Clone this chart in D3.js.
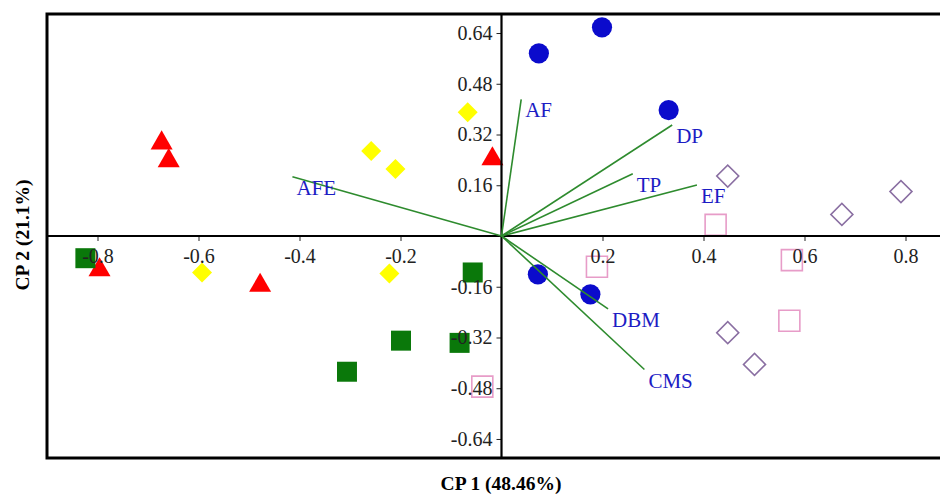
<!DOCTYPE html>
<html>
<head>
<meta charset="utf-8">
<script src="https://cdn.jsdelivr.net/npm/d3@7"></script>
<style>
  body { margin: 0; background: #fff; }
  svg { display: block; font-family: "Liberation Serif", "Times New Roman", serif; }
</style>
</head>
<body>
<div id="chart"></div>
<script>
// loadings (vectors)
var vecNames = ["AF", "AFE", "DP", "TP", "EF", "DBM", "CMS"];
var vecX = [0.039, -0.414, 0.338, 0.260, 0.387, 0.211, 0.283];
var vecY = [0.431, 0.187, 0.350, 0.196, 0.161, -0.230, -0.421];

// scores, one array pair per group
var circX = [0.074, 0.199, 0.331, 0.072, 0.176];
var circY = [0.576, 0.658, 0.397, -0.121, -0.184];
var triX = [-0.673, -0.659, -0.018, -0.796, -0.478];
var triY = [0.293, 0.237, 0.243, -0.107, -0.156];
var yelX = [-0.067, -0.258, -0.210, -0.593, -0.222];
var yelY = [0.390, 0.268, 0.211, -0.115, -0.118];
var grnX = [-0.824, -0.057, -0.199, -0.083, -0.306];
var grnY = [-0.070, -0.115, -0.330, -0.337, -0.428];
var pinkX = [0.424, 0.189, 0.575, 0.570, -0.038];
var pinkY = [0.035, -0.097, -0.076, -0.267, -0.475];
var purX = [0.448, 0.674, 0.791, 0.448, 0.501];
var purY = [0.189, 0.068, 0.140, -0.305, -0.405];

var xTicks = [-0.8, -0.6, -0.4, -0.2, 0.2, 0.4, 0.6, 0.8];
var yTicks = [-0.64, -0.48, -0.32, -0.16, 0.16, 0.32, 0.48, 0.64];

var W = 940, H = 494;
var svg = d3.select("#chart").append("svg")
  .attr("width", W)
  .attr("height", H);

var x = d3.scaleLinear().domain([-0.9, 0.9]).range([47, 956]);
var y = d3.scaleLinear().domain([-0.7, 0.7]).range([458, 14]);

function pts(xs, ys) {
  return xs.map(function (v, i) { return [v, ys[i]]; });
}

// groups of points
var groups = [
  { data: pts(circX, circY), type: d3.symbolCircle, size: 320, fill: "#0b0bcc", stroke: "none", rot: 0 },
  { data: pts(triX, triY), type: d3.symbolTriangle, size: 210, fill: "#ff0000", stroke: "none", rot: 0 },
  { data: pts(yelX, yelY), type: d3.symbolSquare, size: 200, fill: "#ffff00", stroke: "none", rot: 45 },
  { data: pts(grnX, grnY), type: d3.symbolSquare, size: 400, fill: "#0a780a", stroke: "none", rot: 0 },
  { data: pts(pinkX, pinkY), type: d3.symbolSquare, size: 441, fill: "none", stroke: "#e79cc8", rot: 0 },
  { data: pts(purX, purY), type: d3.symbolSquare, size: 242, fill: "none", stroke: "#8a6fa2", rot: 45 }
];

groups.forEach(function (g) {
  svg.append("g")
    .selectAll("path")
    .data(g.data)
    .enter()
    .append("path")
      .attr("d", d3.symbol().type(g.type).size(g.size))
      .attr("transform", function (d) {
        return "translate(" + x(d[0]) + "," + y(d[1]) + ") rotate(" + g.rot + ")";
      })
      .style("fill", g.fill)
      .style("stroke", g.stroke)
      .style("stroke-width", 1.6);
});

// axes through the origin
var fmt = function (d) { return String(d); };

var xAxis = svg.append("g")
  .attr("transform", "translate(0," + y(0) + ")")
  .call(d3.axisBottom(x).tickValues(xTicks).tickSize(5).tickPadding(8).tickFormat(fmt));
var yAxis = svg.append("g")
  .attr("transform", "translate(" + x(0) + ",0)")
  .call(d3.axisLeft(y).tickValues(yTicks).tickSize(5).tickPadding(4).tickFormat(fmt));

[xAxis, yAxis].forEach(function (a) {
  a.select(".domain").remove();
  a.selectAll("text")
    .style("font-family", "Liberation Serif, serif")
    .style("font-size", "20px")
    .style("fill", "#222");
  a.selectAll("line").style("stroke", "#222").style("stroke-width", 1);
});

svg.append("line")
  .attr("x1", 47).attr("x2", 956)
  .attr("y1", y(0)).attr("y2", y(0))
  .style("stroke", "#000").style("stroke-width", 2.2);
svg.append("line")
  .attr("x1", x(0)).attr("x2", x(0))
  .attr("y1", 14).attr("y2", 458)
  .style("stroke", "#000").style("stroke-width", 2.2);

// frame
svg.append("rect")
  .attr("x", 47).attr("y", 14)
  .attr("width", 956 - 47).attr("height", 458 - 14)
  .style("fill", "none")
  .style("stroke", "#000")
  .style("stroke-width", 3);

// vectors
var vecs = vecNames.map(function (n, i) { return { name: n, vx: vecX[i], vy: vecY[i] }; });

svg.append("g")
  .selectAll("line")
  .data(vecs)
  .enter()
  .append("line")
    .attr("x1", x(0)).attr("y1", y(0))
    .attr("x2", function (d) { return x(d.vx); })
    .attr("y2", function (d) { return y(d.vy); })
    .style("stroke", "#2e8b2e")
    .style("stroke-width", 1.6);

svg.append("g")
  .selectAll("text")
  .data(vecs)
  .enter()
  .append("text")
    .attr("x", function (d) { return x(d.vx) + 4; })
    .attr("y", function (d) { return y(d.vy) + 18; })
    .text(function (d) { return d.name; })
    .style("font-size", "21px")
    .style("fill", "#1c1cc4");

// axis titles
svg.append("text")
  .attr("x", 501).attr("y", 490)
  .attr("text-anchor", "middle")
  .style("font-weight", "bold")
  .style("font-size", "19.5px")
  .text("CP 1 (48.46%)");

svg.append("text")
  .attr("transform", "translate(29,235) rotate(-90)")
  .attr("text-anchor", "middle")
  .style("font-weight", "bold")
  .style("font-size", "19.5px")
  .text("CP 2 (21.1%)");
</script>
</body>
</html>
